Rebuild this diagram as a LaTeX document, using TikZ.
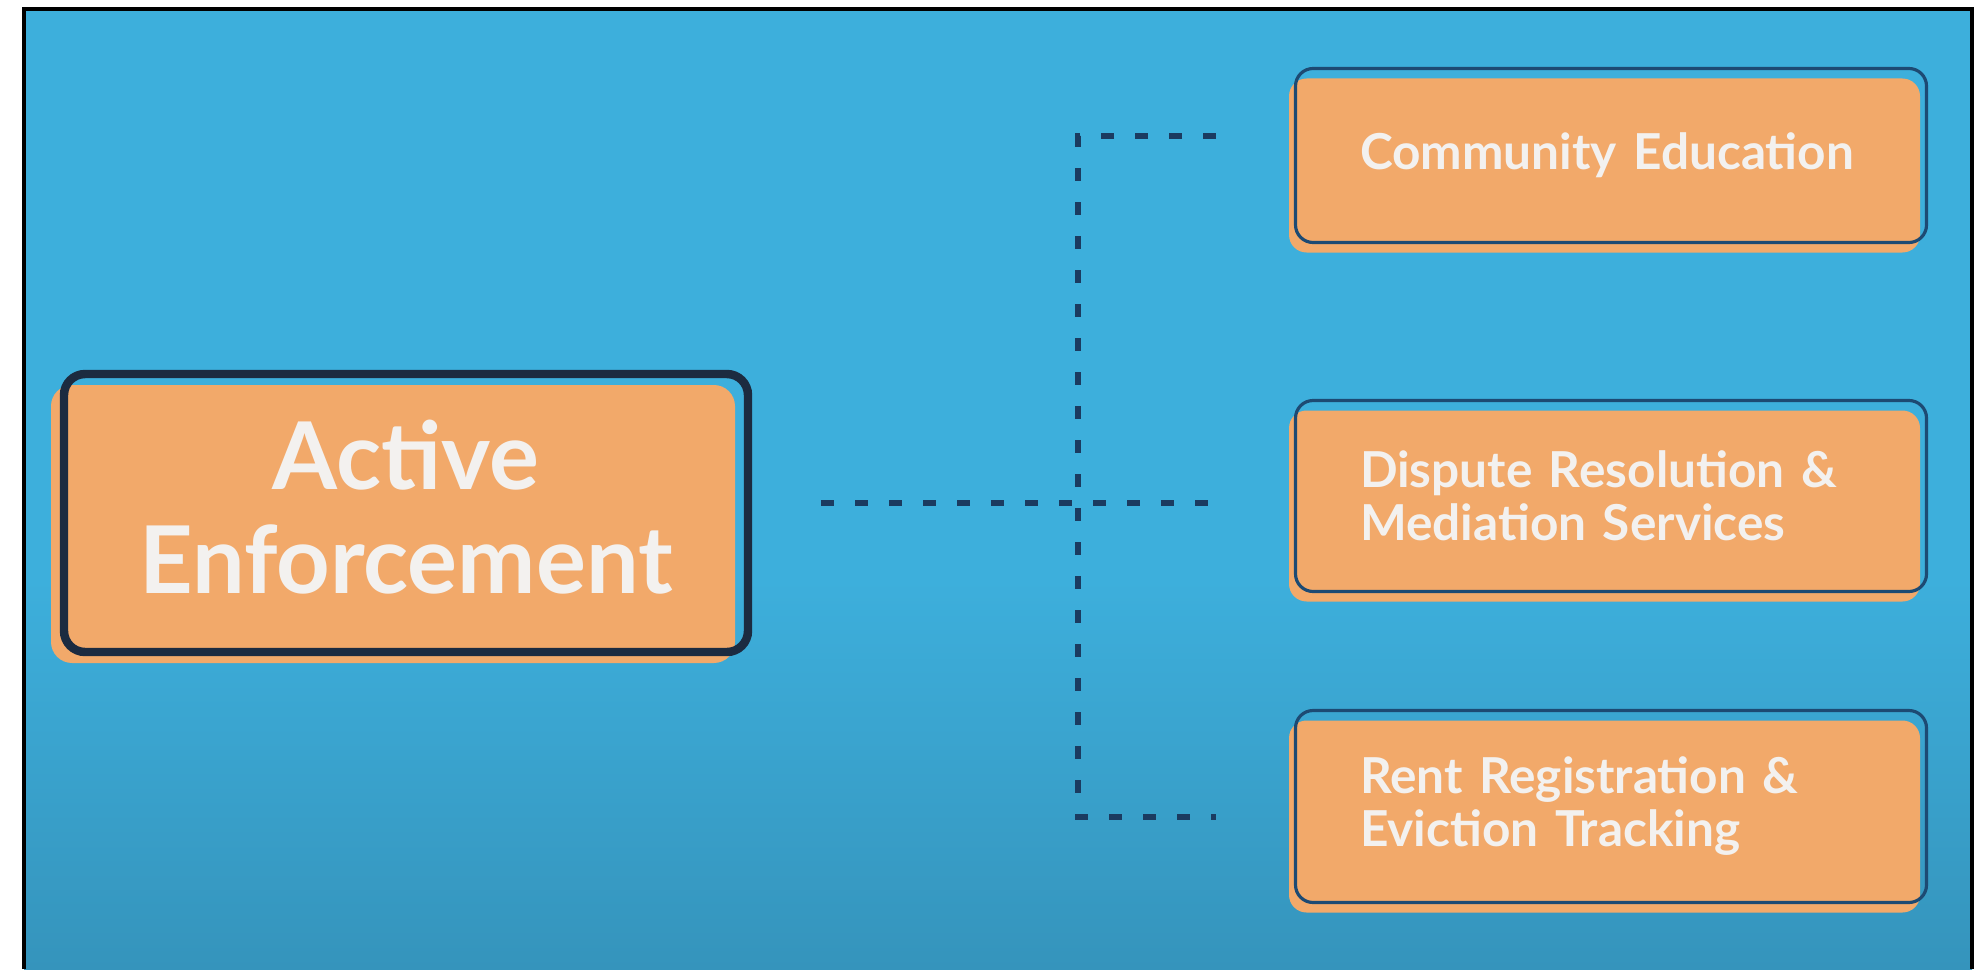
\documentclass[tikz,border=0pt]{standalone}
\usepackage{fontspec}
\setmainfont{Lato}
\usetikzlibrary{positioning, shadows}
\definecolor{skyblue}{HTML}{3DAFDC}
\definecolor{skydeep}{HTML}{3594BC}
\definecolor{boxorange}{HTML}{F2A96A}
\definecolor{navy}{HTML}{1C2B40}
\definecolor{edgeblue}{HTML}{1D4A73}
\definecolor{dashnavy}{HTML}{1B3B60}
\definecolor{paper}{HTML}{F3F1EF}
\tikzset{
  % main box on the left
  bigbox/.style={
    draw=navy, line width=2.4pt, rounded corners=6pt, outer sep=0pt,
    minimum width=6.84cm, minimum height=2.78cm, align=center, text depth=0.12cm,
    text=paper, font=\fontsize{26.6}{29.5}\selectfont\bfseries,
    general shadow={fill=boxorange, shadow xshift=-0.13cm, shadow yshift=-0.11cm}
  },
  % boxes on the right
  itembox/.style={
    draw=edgeblue, line width=0.9pt, rounded corners=5pt, outer sep=0pt,
    text width=5.02cm, inner xsep=0.645cm, align=left,
    text=paper, font=\fontsize{14.1}{15.1}\selectfont\bfseries,
    general shadow={fill=boxorange, shadow xshift=-0.065cm, shadow yshift=-0.10cm}
  },
  link/.style={draw=dashnavy, line width=1.7pt, dash pattern=on 0.13cm off 0.21cm}
}

\begin{document}
\begin{tikzpicture}
  \useasboundingbox (0,0) rectangle (19.86,9.69);
  % backdrop
  \fill[skyblue] (0.24,0) rectangle (19.72,9.60);
  \shade[top color=skyblue, bottom color=skydeep] (0.24,0) rectangle (19.72,3.9);
  \draw[line width=1.2pt] (0.24,0) -- (0.24,9.60) -- (19.72,9.60) -- (19.72,0);

  \node[bigbox] (act) at (4.06,4.56) {Active\\Enforcement};

  \node[itembox, minimum height=1.74cm] (com) at (16.11,8.135) {Community Education};
  \node[itembox, minimum height=1.91cm, below=1.58cm of com] (dis) {Dispute Resolution \&\\Mediation Services};
  \node[itembox, minimum height=1.92cm, below=1.19cm of dis] (rent) {Rent Registration \&\\Eviction Tracking};

  \coordinate (tail) at (8.21,4.66);
  \coordinate (tip-mid) at (12.10,4.66);
  \coordinate (hub-top) at (10.78,8.33);
  \coordinate (hub-bot) at (10.78,1.52);
  \coordinate (tip-top) at (12.16,8.33);
  \coordinate (tip-bot) at (12.16,1.52);

  \draw[link] (tip-top) -- (hub-top) -- (hub-bot) -- (tip-bot);
  \draw[link] (tail) -- (tip-mid);
\end{tikzpicture}
\end{document}
